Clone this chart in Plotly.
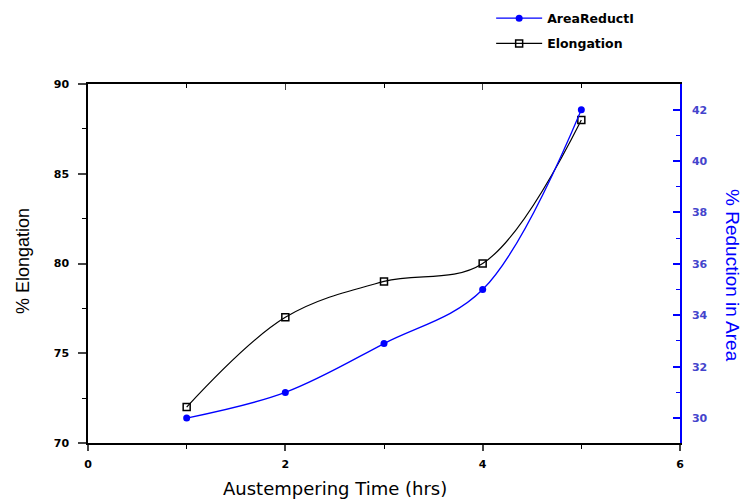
import plotly.graph_objects as go

time_hrs = [1, 2, 3, 4, 5]
elongation = [72, 77, 79, 80, 88]
area_reduction = [30, 31, 32.9, 35.0, 42]

x_ticks = [0, 2, 4, 6]
left_ticks = [70, 75, 80, 85, 90]
right_ticks = [30, 32, 34, 36, 38, 40, 42]

tick_font = dict(family="DejaVu Sans", size=11, color="black", weight="bold")

fig = go.Figure()
fig.add_trace(go.Scatter(
    x=time_hrs, y=area_reduction, name="AreaReductI", yaxis="y2",
    mode="lines+markers", line=dict(color="#0000ff", width=1.3, shape="spline"),
    marker=dict(symbol="circle", size=7, color="#0000ff"),
    legendgroup="a"))
fig.add_trace(go.Scatter(
    x=time_hrs, y=elongation, name="Elongation", yaxis="y",
    mode="lines+markers", line=dict(color="black", width=1.2, shape="spline"),
    marker=dict(symbol="square-open", size=7, color="black", line=dict(width=1.5)),
    legendgroup="b"))

fig.update_layout(
    width=742, height=499,
    margin=dict(l=88, r=62, t=84, b=56, autoexpand=False),
    paper_bgcolor="white", plot_bgcolor="white",
    showlegend=True,
    legend=dict(x=0.681, y=1.224, xanchor="left", yanchor="top", itemwidth=46,
                font=dict(family="DejaVu Sans", size=12.5, color="black", weight="bold"),
                traceorder="grouped", tracegroupgap=6, bgcolor="rgba(0,0,0,0)"),
    xaxis=dict(range=[0, 6], tickvals=x_ticks, ticks="outside", ticklen=6,
               tickwidth=1.5, showline=True, linecolor="black", linewidth=1.5,
               showgrid=False, zeroline=False, tickfont=tick_font, automargin=False,
               ticklabelstandoff=4,
               minor=dict(dtick=1, tick0=0, ticks="outside", ticklen=4, tickcolor="black", tickwidth=1.2)),
    xaxis2=dict(range=[0, 6], overlaying="x", side="top", tickvals=x_ticks,
                ticks="inside", ticklen=6, tickwidth=1.2, showline=True, linecolor="black",
                linewidth=1.5, showticklabels=False, showgrid=False, zeroline=False,
                automargin=False,
                minor=dict(dtick=1, tick0=0, ticks="inside", ticklen=4, tickcolor="black")),
    yaxis=dict(range=[70, 90], tickvals=left_ticks, ticks="outside", ticklen=8,
               tickwidth=1.5, showline=True, linecolor="black", linewidth=1.5,
               showgrid=False, zeroline=False, tickfont=tick_font, automargin=False,
               ticklabelstandoff=7,
               minor=dict(dtick=2.5, tick0=70, ticks="outside", ticklen=4, tickcolor="black", tickwidth=1.2)),
    yaxis2=dict(range=[29.03, 43.0], overlaying="y", side="right", tickvals=right_ticks,
                ticks="inside", ticklen=7, tickwidth=1.5, tickcolor="#0000ff",
                showline=True, linecolor="#0000ff", linewidth=1.5,
                showgrid=False, zeroline=False, automargin=False, ticklabelstandoff=8,
                tickfont=dict(family="DejaVu Sans", size=11, color="#4444cc", weight="bold"),
                minor=dict(dtick=1, tick0=29, ticks="inside", ticklen=4, tickcolor="#0000ff", tickwidth=1.2)),
    annotations=[
        dict(text="% Elongation", textangle=-90, xref="paper", yref="paper",
             x=-0.1098, y=0.507, xanchor="center", yanchor="middle", showarrow=False,
             font=dict(family="Liberation Sans", size=18, color="black")),
        dict(text="% Reduction in Area", textangle=90, xref="paper", yref="paper",
             x=1.0895, y=0.465, xanchor="center", yanchor="middle", showarrow=False,
             font=dict(family="Liberation Sans", size=19, color="#0000ff")),
        dict(text="Austempering Time (hrs)", xref="paper", yref="paper",
             x=0.418, y=-0.128, xanchor="center", yanchor="middle", showarrow=False,
             font=dict(family="DejaVu Sans", size=18, color="black")),
    ],
)
# dummy trace to activate xaxis2
fig.add_trace(go.Scatter(x=[None], y=[None], xaxis="x2", showlegend=False, hoverinfo="skip"))

fig.write_html("out.html", config={"displayModeBar": False},
               post_script="document.body.style.margin='0';")
